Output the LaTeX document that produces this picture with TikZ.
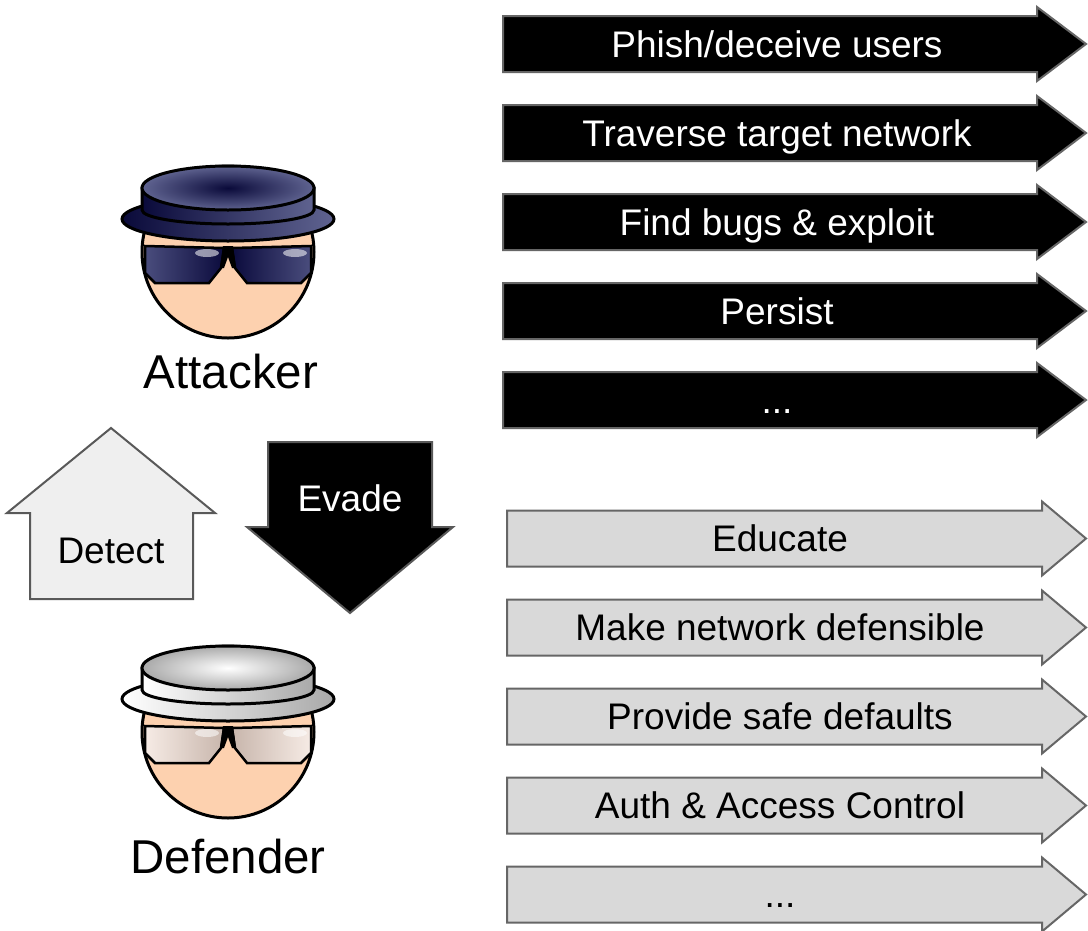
\documentclass[tikz,border=0pt]{standalone}
\usepackage{fontspec}
\setmainfont{Liberation Sans}

\definecolor{facecol}{HTML}{FDD1AF}
\definecolor{atkhatin}{HTML}{0A0A3A}
\definecolor{atkhatout}{HTML}{5F6390}
\definecolor{atklensa}{HTML}{4A4D7D}
\definecolor{atklensb}{HTML}{0B0B3D}
\definecolor{defhatin}{HTML}{FFFFFF}
\definecolor{defhatout}{HTML}{A9A9A9}
\definecolor{deflensa}{HTML}{F6EBE5}
\definecolor{deflensb}{HTML}{C8B6AC}
\definecolor{bargray}{HTML}{666666}
\definecolor{deffill}{HTML}{D9D9D9}
\definecolor{detfill}{HTML}{EFEFEF}
\definecolor{detline}{HTML}{595959}

\tikzset{
  % round face with shades and hat; #1/#2 hat colours, #3/#4 lens colours, #5 hat drop
  pics/spy/.style n args={5}{code={
    \draw[line width=3pt, fill=facecol] (0,0) circle[radius=86pt];
    \draw[line width=2.5pt, left color=#3, right color=#4]
      (-83,-6) -- (-4,-4) -- (-7,16) -- (-19,31) -- (-73,31) -- (-83,21) -- cycle;
    \draw[line width=2.5pt, left color=#4, right color=#3]
      (83,-6) -- (4,-4) -- (7,16) -- (19,31) -- (73,31) -- (83,21) -- cycle;
    \fill (-5,-6) -- (5,-6) -- (8,16) -- (4,16) -- (0,5) -- (-4,16) -- (-8,16) -- cycle;
    \fill[white, opacity=0.55] (-21,1) ellipse[x radius=12pt, y radius=4pt]
                               (67,1) ellipse[x radius=12pt, y radius=4pt];
    \begin{scope}[shift={(0,#5)}]
      \draw[line width=3pt, left color=#1, right color=#2] (0,-33) ellipse[x radius=106pt, y radius=22pt];
      % band below the crown: lower half of an ellipse on screen
      \draw[line width=3pt, left color=#1, right color=#2]
        (-86,-64) -- (-86,-42) arc[start angle=180, end angle=360, x radius=86pt, y radius=14pt]
        -- (86,-64) -- cycle;
      \draw[line width=3pt, inner color=#1, outer color=#2] (0,-64) ellipse[x radius=86pt, y radius=22pt];
    \end{scope}
  }},
  atkbar/.style={fill=black, draw=bargray, line width=2pt},
  defbar/.style={fill=deffill, draw=bargray, line width=2pt},
  barlabel/.style={font=\fontsize{37}{44}\selectfont, anchor=base, inner sep=0pt},
  rolelabel/.style={font=\fontsize{47.5}{56}\selectfont, anchor=base, inner sep=0pt}
}

\begin{document}
\begin{tikzpicture}[x=1pt, y=-1pt]
  \path[fill=white, use as bounding box] (0,0) rectangle (1088,930);

  % attacker steps
  \foreach \cy/\txt [count=\i] in {44/{Phish/deceive users}, 133/{Traverse target network},
      222/{Find bugs \& exploit}, 311/{Persist}, 400/{...}} {
    \draw[atkbar] (503,{\cy-28}) -- (1037,{\cy-28}) -- (1037,{\cy-37}) -- (1086,\cy)
      -- (1037,{\cy+37}) -- (1037,{\cy+28}) -- (503,{\cy+28}) -- cycle;
    \node[barlabel, text=white] (atk\i) at (777,{\cy+13}) {\txt};
  }

  % defender steps
  \foreach \cy/\txt [count=\i] in {538.5/{Educate}, 627.5/{Make network defensible},
      716.5/{Provide safe defaults}, 805.5/{Auth \& Access Control}, 894.5/{...}} {
    \draw[defbar] (507,{\cy-28}) -- (1042,{\cy-28}) -- (1042,{\cy-37}) -- (1086,\cy)
      -- (1042,{\cy+37}) -- (1042,{\cy+28}) -- (507,{\cy+28}) -- cycle;
    \node[barlabel] (def\i) at (780,{\cy+13}) {\txt};
  }

  % the two players
  \pic (attacker) at (228,252) {spy={atkhatin}{atkhatout}{atklensa}{atklensb}{0}};
  \node[rolelabel] (atkname) at (231,388) {Attacker};
  \pic (defender) at (228,732) {spy={defhatin}{defhatout}{deflensa}{deflensb}{0}};
  \node[rolelabel] (defname) at (228,873) {Defender};

  % detect / evade
  \draw[fill=detfill, draw=detline, line width=2pt]
    (30,599) -- (30,513) -- (7,513) -- (111,428) -- (215,513) -- (193,513) -- (193,599) -- cycle;
  \node[barlabel] (detect) at (111,563) {Detect};
  \draw[fill=black, draw=detline, line width=2pt]
    (268,442) -- (432,442) -- (432,527) -- (453,527) -- (350,613) -- (247,527) -- (268,527) -- cycle;
  \node[barlabel, text=white] (evade) at (350,511) {Evade};
\end{tikzpicture}
\end{document}
